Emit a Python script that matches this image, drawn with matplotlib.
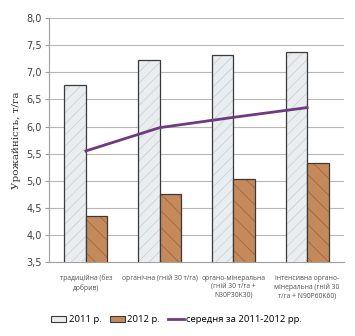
import numpy as np
import matplotlib.pyplot as plt
from matplotlib.patches import Patch
from matplotlib.lines import Line2D

categories = [
    "традиційна (без\nдобрив)",
    "органічна (гній 30 т/га)",
    "органо-мінеральна\n(гній 30 т/га +\nN30P30K30)",
    "інтенсивна органо-\nмінеральна (гній 30\nт/га + N90P60K60)",
]
yield_2011 = [6.76, 7.22, 7.32, 7.37]
yield_2012 = [4.35, 4.75, 5.03, 5.33]
mean_2011_2012 = [5.55, 5.98, 6.17, 6.35]

plt.rcParams["hatch.linewidth"] = 0.5

fig = plt.figure(figsize=(3.55, 3.36), dpi=100)
ax = fig.add_axes([0.138, 0.22, 0.831, 0.726])

x = np.arange(len(categories))
w = 0.29
c2011 = "#e9edef"
c2012 = "#c48a5c"
# textured fill, then a dark outline on top
ax.bar(x - w / 2, yield_2011, w, color=c2011, edgecolor="#c5ced6",
       linewidth=0, hatch="///", zorder=3)
ax.bar(x - w / 2, yield_2011, w, color="none", edgecolor="#3a3a3a",
       linewidth=0.9, zorder=3)
ax.bar(x + w / 2, yield_2012, w, color=c2012, edgecolor="#9a6236",
       linewidth=0, hatch="\\\\", zorder=3)
ax.bar(x + w / 2, yield_2012, w, color="none", edgecolor="#3a3a3a",
       linewidth=0.9, zorder=3)
ax.plot(x, mean_2011_2012, color="#6e3b7e", linewidth=2, zorder=4)

ax.set_xlim(-0.5, 3.5)
ax.set_ylim(3.5, 8.0)
yt = np.arange(3.5, 8.01, 0.5)
ax.set_yticks(yt)
ax.set_yticklabels([f"{v:.1f}".replace(".", ",") for v in yt], fontsize=7, color="#404040")
ax.set_xticks(x)
ax.set_xticklabels(categories, fontsize=4.9, color="#505050", family="Open Sans",
                   linespacing=1.3)
ax.tick_params(axis="x", length=0, pad=9)
ax.tick_params(axis="y", length=3, color="#a0a0a0", pad=2)
ax.grid(axis="y", color="#b8b8b8", linewidth=0.8, zorder=0)
for s in ["top", "right"]:
    ax.spines[s].set_visible(False)
ax.spines["left"].set_color("#a0a0a0")
ax.spines["bottom"].set_color("#a0a0a0")
ax.set_ylabel("Урожайність, т/га", fontsize=7.5, family="DejaVu Serif", color="#303030")

handles = [
    Patch(facecolor=c2011, edgecolor="#3a3a3a", linewidth=0.8),
    Patch(facecolor=c2012, edgecolor="#3a3a3a", linewidth=0.8),
    Line2D([], [], color="#6e3b7e", linewidth=2),
]
labels = ["2011 р.", "2012 р.", "середня за 2011-2012 рр."]
fig.legend(handles, labels, loc="lower center", bbox_to_anchor=(0.497, 0.01), ncol=3,
           frameon=False, handlelength=1.6, columnspacing=0.9,
           handletextpad=0.25, prop={"family": "Open Sans", "size": 6.8})

fig.savefig("out.png", dpi=100)
